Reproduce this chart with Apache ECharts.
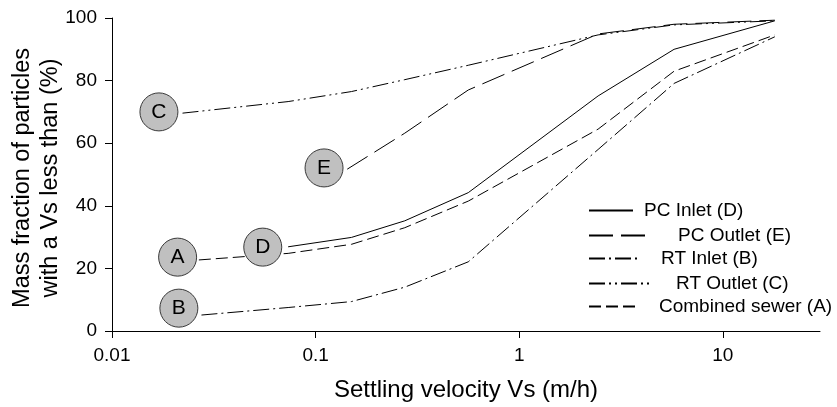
<!DOCTYPE html>
<html>
<head>
<meta charset="utf-8">
<script src="https://cdn.jsdelivr.net/npm/echarts@6/dist/echarts.min.js"></script>
<style>
  html, body { margin: 0; padding: 0; background: #fff; }
  #chart { width: 837px; height: 407px; }
</style>
</head>
<body>
<div id="chart"></div>
<script>
// settling velocity (m/h) and cumulative mass fraction (%) per sample
var pcInletVs = [0.0733, 0.150, 0.274, 0.562, 2.44, 5.76, 18.0];
var pcInletPct = [26.9, 29.9, 35.2, 44.2, 75.1, 90.0, 99.1];
var pcOutletVs = [0.143, 0.274, 0.562, 2.44, 5.76, 18.0];
var pcOutletPct = [51.7, 63.2, 77.0, 94.9, 98.0, 99.3];
var rtInletVs = [0.0275, 0.0733, 0.150, 0.274, 0.562, 2.44, 5.76, 18.0];
var rtInletPct = [5.1, 7.5, 9.4, 14.0, 22.1, 58.0, 79.1, 94.0];
var rtOutletVs = [0.0222, 0.0733, 0.150, 0.274, 0.562, 2.44, 5.76, 18.0];
var rtOutletPct = [69.6, 73.3, 76.5, 80.3, 84.9, 94.6, 97.8, 99.1];
var combinedVs = [0.0267, 0.0733, 0.150, 0.274, 0.562, 2.44, 5.76, 18.0];
var combinedPct = [22.7, 24.8, 27.7, 33.0, 41.5, 64.5, 83.0, 94.6];

// circled letters placed next to each curve
var tagNames = ['A', 'B', 'C', 'D', 'E'];
var tagVs = [0.021, 0.0213, 0.017, 0.055, 0.11];
var tagPct = [23.6, 7.3, 70.0, 26.8, 52.1];

var xTicks = [0.01, 0.1, 1, 10];
var xTickLabels = ['0.01', '0.1', '1', '10'];
var seriesNames = ['PC Inlet (D)', 'PC Outlet (E)', 'RT Inlet (B)', 'RT Outlet (C)', 'Combined sewer (A)'];

var FONT = 'Liberation Sans, Arial, sans-serif';

function pairs(xs, ys) {
  var out = [];
  for (var i = 0; i < xs.length; i++) out.push([xs[i], ys[i]]);
  return out;
}

function curve(name, xs, ys, dash) {
  return {
    name: name,
    type: 'line',
    data: pairs(xs, ys),
    symbol: 'none',
    silent: true,
    z: 2,
    color: '#000',
    lineStyle: { color: '#000', width: 1, type: dash }
  };
}

// SigmaPlot style legend: each row sits on its own, lines and texts not aligned
var legendRows = [
  { top: 212, lineW: 44, textX: 643 },
  { top: 237, lineW: 60, textX: 677 },
  { top: 260, lineW: 52, textX: 660 },
  { top: 285, lineW: 64, textX: 675 },
  { top: 308, lineW: 50, textX: 658 }
];
var legends = legendRows.map(function(r, i) {
  return {
    data: [seriesNames[i]],
    left: 588,
    top: r.top - 11,
    padding: 0,
    itemWidth: r.lineW,
    itemHeight: 14,
    selectedMode: false,
    // hide the symbol drawn in the middle of the line icon
    itemStyle: { color: 'rgba(0,0,0,0)', borderColor: 'rgba(0,0,0,0)', borderWidth: 0 },
    textStyle: {
      fontFamily: FONT,
      fontSize: 19,
      color: '#000',
      padding: [0, 0, 0, r.textX - 588 - r.lineW - 5]
    }
  };
});

var chart = echarts.init(document.getElementById('chart'));
chart.setOption({
  animation: false,
  backgroundColor: '#fff',
  textStyle: { fontFamily: FONT },
  legend: legends,
  grid: { left: 112, right: 17, top: 18, bottom: 76, containLabel: false, outerBoundsMode: 'none' },
  xAxis: {
    type: 'log',
    logBase: 10,
    min: 0.01,
    max: 30,
    name: 'Settling velocity Vs (m/h)',
    nameLocation: 'middle',
    nameGap: 47,
    nameMoveOverlap: false,
    nameTextStyle: { fontFamily: FONT, fontSize: 24, color: '#000' },
    axisLine: { lineStyle: { color: '#000', width: 1 } },
    axisTick: { inside: false, length: 7, customValues: xTicks, lineStyle: { color: '#000' } },
    axisLabel: {
      margin: 15,
      fontFamily: FONT,
      fontSize: 19,
      color: '#000',
      customValues: xTicks,
      formatter: function(v) {
        for (var i = 0; i < xTicks.length; i++) {
          if (Math.abs(v - xTicks[i]) < xTicks[i] * 1e-6) return xTickLabels[i];
        }
        return '';
      }
    },
    splitLine: { show: false },
    minorTick: { show: false }
  },
  yAxis: {
    type: 'value',
    min: 0,
    max: 100,
    interval: 20,
    name: 'Mass fraction of particles\nwith a Vs less than (%)',
    nameLocation: 'middle',
    nameGap: 47,
    nameMoveOverlap: false,
    nameTextStyle: {
      fontFamily: FONT,
      fontSize: 23.5,
      color: '#000',
      lineHeight: 28,
      padding: [0, 7, 0, 0]
    },
    axisLine: { show: true, lineStyle: { color: '#000', width: 1 } },
    axisTick: { show: true, inside: false, length: 7, lineStyle: { color: '#000' } },
    axisLabel: { margin: 15, fontFamily: FONT, fontSize: 19, color: '#000' },
    splitLine: { show: false }
  },
  series: [
    curve(seriesNames[0], pcInletVs, pcInletPct, 'solid'),
    curve(seriesNames[1], pcOutletVs, pcOutletPct, [24, 8]),
    curve(seriesNames[2], rtInletVs, rtInletPct, [16, 4, 2, 4]),
    curve(seriesNames[3], rtOutletVs, rtOutletPct, [16, 4, 2, 4, 2, 4]),
    curve(seriesNames[4], combinedVs, combinedPct, [12, 5]),
    {
      type: 'scatter',
      silent: true,
      z: 5,
      data: tagNames.map(function(n, i) { return { name: n, value: [tagVs[i], tagPct[i]] }; }),
      symbol: 'circle',
      symbolSize: 38,
      itemStyle: { color: '#c0c0c0', borderColor: '#3a3a3a', borderWidth: 1, opacity: 1 },
      label: {
        show: true,
        position: 'inside',
        formatter: '{b}',
        fontFamily: FONT,
        fontSize: 21,
        color: '#000'
      }
    }
  ]
});
</script>
</body>
</html>
